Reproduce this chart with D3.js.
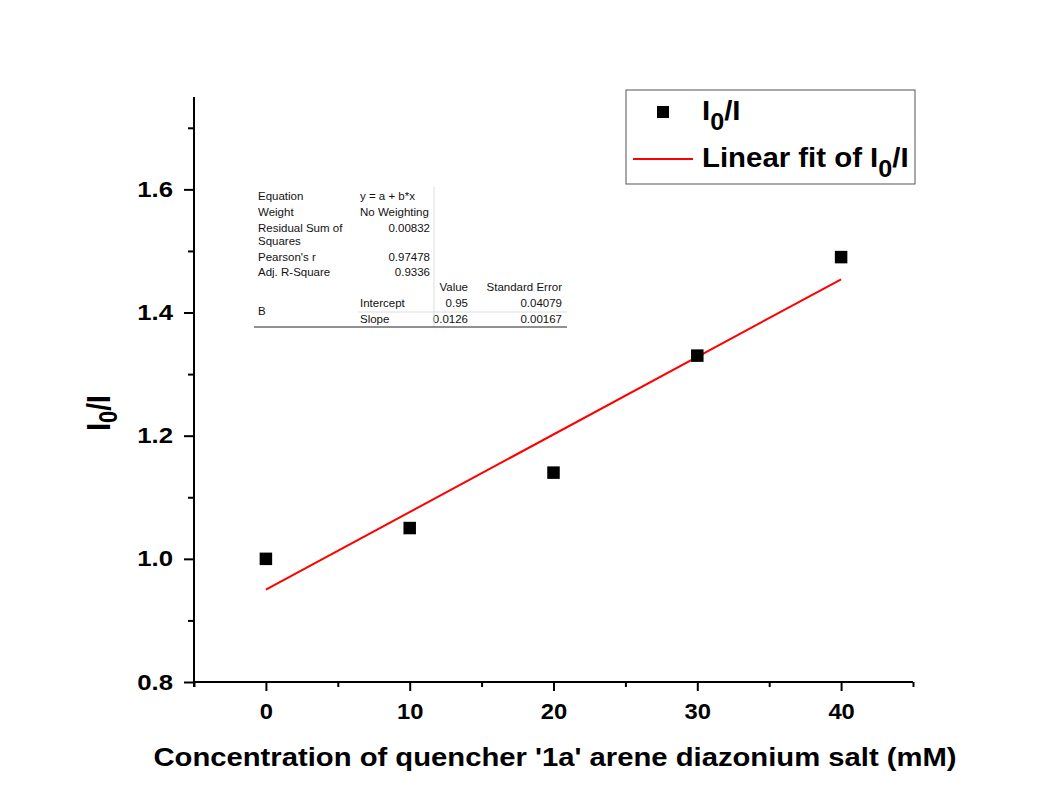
<!DOCTYPE html>
<html>
<head>
<meta charset="utf-8">
<script src="https://cdn.jsdelivr.net/npm/d3@7/dist/d3.min.js"></script>
<style>
  html, body { margin: 0; padding: 0; background: #fff; }
  svg { display: block; font-family: Arial, "Liberation Sans", sans-serif; }
</style>
</head>
<body>
<svg id="chart" width="1044" height="809"></svg>
<script>
// Quencher concentration (mM) and fluorescence ratio I0/I
const concentration = [0, 10, 20, 30, 40];
const ratio = [1.00, 1.05, 1.14, 1.33, 1.49];

// Linear fit parameters
const fitIntercept = 0.95;
const fitSlope = 0.0126;
const fitRange = [0, 40];

// Axis ticks
const xTicks = [0, 10, 20, 30, 40];
const xMinorTicks = [-5, 5, 15, 25, 35, 45];
const yTicks = [0.8, 1.0, 1.2, 1.4, 1.6];
const yMinorTicks = [0.9, 1.1, 1.3, 1.5, 1.7];

// Fit statistics table rows
const statsRows = [
  ["Equation", "y = a + b*x"],
  ["Weight", "No Weighting"],
  ["Residual Sum of", "0.00832"],
  ["Squares", ""],
  ["Pearson's r", "0.97478"],
  ["Adj. R-Square", "0.9336"]
];
const paramRows = [
  ["Intercept", "0.95", "0.04079"],
  ["Slope", "0.0126", "0.00167"]
];

const svg = d3.select("#chart");
const plotLeft = 194, plotRight = 913, plotTop = 97, plotBottom = 682;

const x = d3.scaleLinear().domain([-5, 45]).range([plotLeft, plotRight]);
const y = d3.scaleLinear().domain([0.8, 1.75]).range([plotBottom, plotTop]);

// Text in this figure is slightly wide; widen glyphs horizontally
const sxWide = 1.17;

// Axes
const xAxis = d3.axisBottom(x).tickValues(xTicks).tickFormat(d3.format("d")).tickSize(9).tickPadding(12);
const xMinor = d3.axisBottom(x).tickValues(xMinorTicks).tickFormat("").tickSize(5);
const yAxis = d3.axisLeft(y).tickValues(yTicks).tickFormat(d3.format(".1f")).tickSize(10);
const yMinor = d3.axisLeft(y).tickValues(yMinorTicks).tickFormat("").tickSize(6);

function styleAxis(g) {
  g.select(".domain").remove();
  g.selectAll(".tick line").attr("stroke", "#000").attr("stroke-width", 2);
  g.selectAll(".tick text").attr("fill", "#000").attr("font-size", 22).attr("font-weight", "bold")
    .attr("font-family", "Arial, 'Liberation Sans', sans-serif");
}

svg.append("g").attr("transform", `translate(0,${plotBottom})`).call(xMinor).call(styleAxis);
const gx = svg.append("g").attr("transform", `translate(0,${plotBottom})`).call(xAxis).call(styleAxis);
gx.selectAll(".tick text").attr("transform", "scale(1.08,1)");
svg.append("g").attr("transform", `translate(${plotLeft},0)`).call(yMinor).call(styleAxis);
const gy = svg.append("g").attr("transform", `translate(${plotLeft},0)`).call(yAxis).call(styleAxis);
gy.selectAll(".tick text").attr("x", -21 / sxWide).attr("transform", `scale(${sxWide},1)`);

// Axis lines
svg.append("line").attr("x1", plotLeft).attr("x2", plotRight).attr("y1", plotBottom).attr("y2", plotBottom)
  .attr("stroke", "#000").attr("stroke-width", 2);
svg.append("line").attr("x1", plotLeft).attr("x2", plotLeft).attr("y1", plotTop).attr("y2", plotBottom + 5)
  .attr("stroke", "#000").attr("stroke-width", 2);

// Fit line
svg.append("line")
  .attr("x1", x(fitRange[0])).attr("y1", y(fitIntercept + fitSlope * fitRange[0]))
  .attr("x2", x(fitRange[1])).attr("y2", y(fitIntercept + fitSlope * fitRange[1]))
  .attr("stroke", "#ff0000").attr("stroke-width", 2);

// Data points
const ms = 12.5;
svg.append("g").selectAll("rect")
  .data(concentration.map((c, i) => [c, ratio[i]]))
  .join("rect")
  .attr("x", d => x(d[0]) - ms / 2)
  .attr("y", d => y(d[1]) - ms / 2)
  .attr("width", ms).attr("height", ms)
  .attr("fill", "#000");

// X axis title
svg.append("g").attr("transform", `translate(555,766) scale(${sxWide},1)`)
  .append("text")
  .attr("text-anchor", "middle")
  .attr("font-size", 25).attr("font-weight", "bold")
  .text("Concentration of quencher '1a' arene diazonium salt (mM)");

// Y axis title: I0/I
const yTitle = svg.append("g").attr("transform", `translate(110,413) scale(${sxWide},1) rotate(-90)`)
  .append("text")
  .attr("text-anchor", "middle")
  .attr("font-size", 28).attr("font-weight", "bold");
yTitle.append("tspan").text("I");
yTitle.append("tspan").attr("dy", 6).attr("font-size", 22).text("0");
yTitle.append("tspan").attr("dy", -6).text("/I");

// Legend
const lg = svg.append("g");
lg.append("rect").attr("x", 626).attr("y", 90).attr("width", 289).attr("height", 94)
  .attr("fill", "#fff").attr("stroke", "#555").attr("stroke-width", 1);
lg.append("rect").attr("x", 657).attr("y", 106).attr("width", 12).attr("height", 12).attr("fill", "#000");
const l1 = lg.append("g").attr("transform", "translate(702,120) scale(1.05,1)")
  .append("text").attr("font-size", 28).attr("font-weight", "bold");
l1.append("tspan").text("I");
l1.append("tspan").attr("dy", 10).attr("font-size", 24).text("0");
l1.append("tspan").attr("dy", -10).text("/I");
lg.append("line").attr("x1", 633).attr("x2", 693).attr("y1", 159).attr("y2", 159)
  .attr("stroke", "#ff0000").attr("stroke-width", 2);
const l2 = lg.append("g").attr("transform", "translate(702,167) scale(1.05,1)")
  .append("text").attr("font-size", 28).attr("font-weight", "bold");
l2.append("tspan").text("Linear fit of I");
l2.append("tspan").attr("dy", 10).attr("font-size", 24).text("0");
l2.append("tspan").attr("dy", -10).text("/I");

// Statistics table
const tb = svg.append("g").attr("font-size", 11.5).attr("fill", "#111");
const rowY = [200, 216, 232, 245, 261, 276];
statsRows.forEach((r, i) => {
  tb.append("text").attr("x", 258).attr("y", rowY[i]).text(r[0]);
  if (i < 2) tb.append("text").attr("x", 360).attr("y", rowY[i]).text(r[1]);
  else tb.append("text").attr("x", 430).attr("y", rowY[i]).attr("text-anchor", "end").text(r[1]);
});
tb.append("text").attr("x", 468).attr("y", 291).attr("text-anchor", "end").text("Value");
tb.append("text").attr("x", 562).attr("y", 291).attr("text-anchor", "end").text("Standard Error");
const pY = [307, 323];
paramRows.forEach((r, i) => {
  tb.append("text").attr("x", 360).attr("y", pY[i]).text(r[0]);
  tb.append("text").attr("x", 468).attr("y", pY[i]).attr("text-anchor", "end").text(r[1]);
  tb.append("text").attr("x", 562).attr("y", pY[i]).attr("text-anchor", "end").text(r[2]);
});
tb.append("text").attr("x", 258).attr("y", 315).text("B");
svg.append("line").attr("x1", 434).attr("x2", 434).attr("y1", 187).attr("y2", 327)
  .attr("stroke", "#ddd").attr("stroke-width", 1);
svg.append("line").attr("x1", 358).attr("x2", 567).attr("y1", 312).attr("y2", 312)
  .attr("stroke", "#ddd").attr("stroke-width", 1);
svg.append("line").attr("x1", 254).attr("x2", 567).attr("y1", 327).attr("y2", 327)
  .attr("stroke", "#222").attr("stroke-width", 1);
</script>
</body>
</html>
